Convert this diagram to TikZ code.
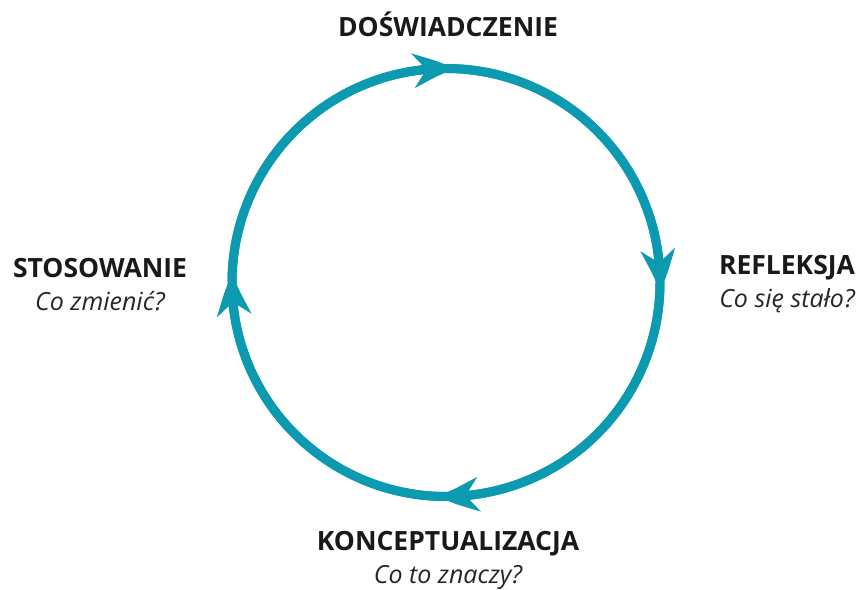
\documentclass[tikz,border=0pt]{standalone}
\usepackage{fontspec}
\setmainfont{Open Sans}
\usetikzlibrary{arrows.meta,bending}
\definecolor{cyc}{HTML}{0C9AB1}
\begin{document}
\begin{tikzpicture}[x=1pt,y=1pt,
  ring/.style={draw=cyc,line width=9pt},
  arcline/.style={draw=cyc,line width=9pt,-{Stealth[length=42pt,width=34pt,inset=13pt,bend]}},
  title/.style={font=\fontsize{26.5}{30}\selectfont\bfseries,text=black!90,inner sep=0pt},
  question/.style={font=\fontsize{25}{29}\selectfont\itshape,text=black!85,inner sep=0pt}]
\useasboundingbox (0,0) rectangle (866,589);
\coordinate (C) at (446,306.5);
\coordinate (L) at (232,306.5);
\coordinate (T) at (446,520.5);
\coordinate (R) at (660,306.5);
\coordinate (B) at (446,92.5);
\draw[ring] (C) circle[radius=214];
\draw[arcline] (L) arc[start angle=180,end angle=87.5,radius=214];
\draw[arcline] (T) arc[start angle=90,end angle=-2.5,radius=214];
\draw[arcline] (R) arc[start angle=0,end angle=-92.5,radius=214];
\draw[arcline] (B) arc[start angle=-90,end angle=-182.5,radius=214];
\node[title] (d) at (448,565) {DOŚWIADCZENIE};
\node[title] (r) at (787,321) {REFLEKSJA};
\node[question] (rq) at (787,288) {Co się stało?};
\node[title] (s) at (100,321) {STOSOWANIE};
\node[question] (sq) at (100,288) {Co zmienić?};
\node[title] (k) at (448,45) {KONCEPTUALIZACJA};
\node[question] (kq) at (448,12) {Co to znaczy?};
\end{tikzpicture}
\end{document}
